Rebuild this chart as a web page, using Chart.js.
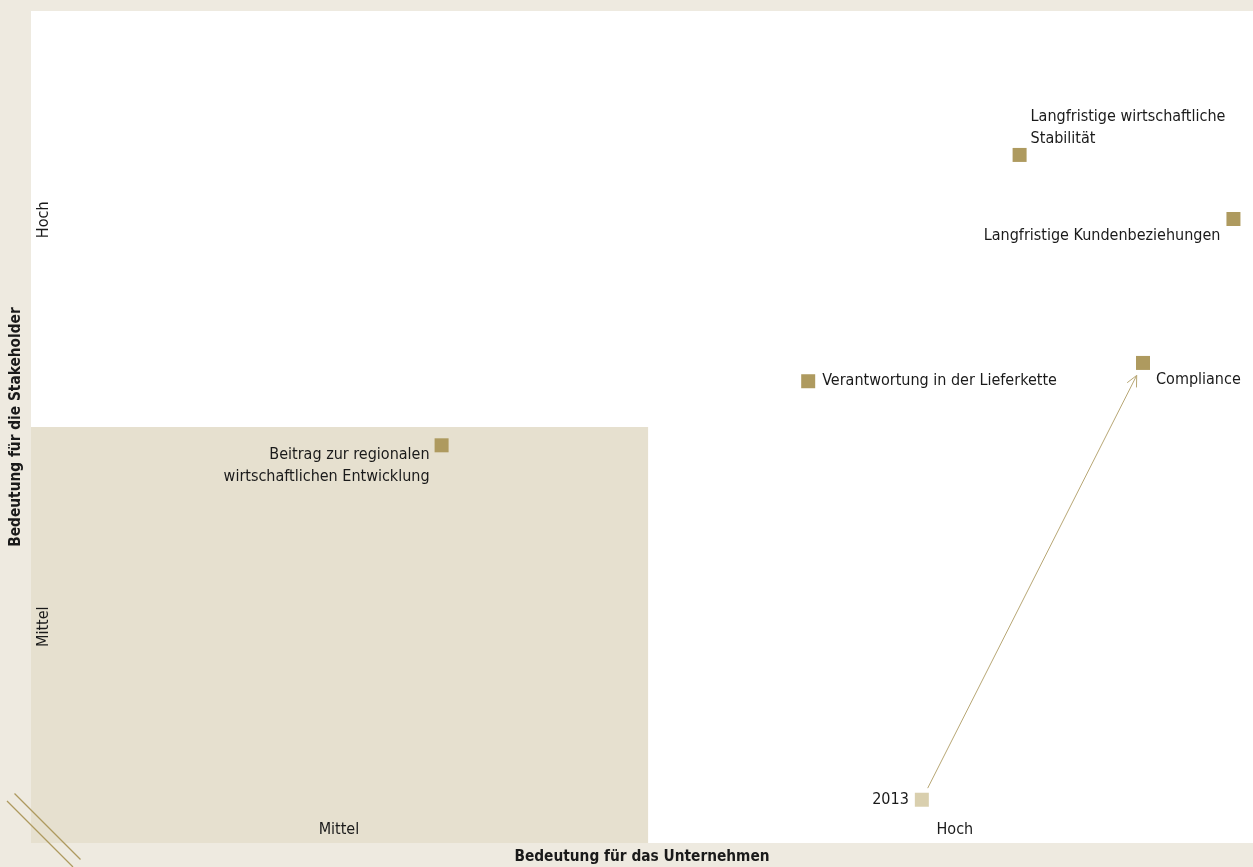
<!DOCTYPE html>
<html lang="de">
<head>
<meta charset="utf-8">
<title>Wesentlichkeitsmatrix</title>
<script src="https://cdn.jsdelivr.net/npm/chart.js@4.4.1/dist/chart.umd.min.js"></script>
<style>
  html, body { margin: 0; padding: 0; background: #eeeae0; }
  #wrap { width: 1253px; height: 867px; }
</style>
</head>
<body>
<div id="wrap"><canvas id="matrix" width="1253" height="867"></canvas></div>
<script>
// Topics and their positions (0–100 on both axes)
const topics = [
  ['Langfristige wirtschaftliche', 'Stabilität'],
  ['Langfristige Kundenbeziehungen'],
  ['Compliance'],
  ['Verantwortung in der Lieferkette'],
  ['Beitrag zur regionalen', 'wirtschaftlichen Entwicklung']
];
const companyImportance     = [80.9, 98.4, 91.0, 63.6, 33.6];
const stakeholderImportance = [82.7, 75.0, 57.7, 55.5, 47.8];

// Earlier position of "Compliance"
const previousLabel = '2013';
const previousCompany = [72.9];
const previousStakeholder = [5.2];

// Axis bands
const bandLabels = ['Mittel', 'Hoch'];
const bandCentersX = [25.2, 75.6];
const bandCentersY = [26.0, 74.9];
const midX = 50.5;
const midY = 50.0;

const xTitle = 'Bedeutung für das Unternehmen';
const yTitle = 'Bedeutung für die Stakeholder';

// Label placement around each marker: dx, dy (px), alignment
const labelPlacement = [
  { dx: 11, dy: -38, align: 'left' },
  { dx: -13, dy: 17, align: 'right' },
  { dx: 13, dy: 17, align: 'left' },
  { dx: 14, dy: 0, align: 'left' },
  { dx: -12, dy: 10, align: 'right' }
];

const FONT = '"DejaVu Sans Condensed", "Liberation Sans", sans-serif';
const GOLD = '#ae9a5f';
const GOLD_LIGHT = '#d9cfae';
const TEXT = '#1a1a1a';

const matrixPlugin = {
  id: 'matrixDecor',
  beforeDraw(chart) {
    const { ctx, chartArea: a, scales: { x, y } } = chart;
    ctx.save();
    ctx.fillStyle = '#eeeae0';
    ctx.fillRect(0, 0, chart.width, chart.height);
    ctx.fillStyle = '#ffffff';
    ctx.fillRect(a.left, a.top, a.right - a.left, a.bottom - a.top);
    // lower-left quadrant
    const qx = x.getPixelForValue(midX);
    const qy = y.getPixelForValue(midY);
    ctx.fillStyle = '#e6e0cf';
    ctx.fillRect(a.left, qy, qx - a.left, a.bottom - qy);

    // axis break marks
    ctx.strokeStyle = GOLD;
    ctx.lineWidth = 1.3;
    ctx.beginPath();
    ctx.moveTo(7, 801); ctx.lineTo(73, 867);
    ctx.moveTo(14.5, 793.5); ctx.lineTo(80.5, 859.5);
    ctx.stroke();

    // band labels
    ctx.fillStyle = TEXT;
    ctx.font = '16px ' + FONT;
    ctx.textAlign = 'center';
    ctx.textBaseline = 'middle';
    bandLabels.forEach((t, i) => {
      ctx.fillText(t, x.getPixelForValue(bandCentersX[i]), a.bottom - 13);
    });
    bandLabels.forEach((t, i) => {
      ctx.save();
      ctx.translate(a.left + 13, y.getPixelForValue(bandCentersY[i]));
      ctx.rotate(-Math.PI / 2);
      ctx.fillText(t, 0, 0);
      ctx.restore();
    });

    // axis titles
    ctx.font = 'bold 15.3px ' + FONT;
    ctx.fillText(xTitle, (a.left + a.right) / 2, a.bottom + 14);
    ctx.save();
    ctx.translate(16, (a.top + a.bottom) / 2);
    ctx.rotate(-Math.PI / 2);
    ctx.fillText(yTitle, 0, 0);
    ctx.restore();
    ctx.restore();
  },
  afterDatasetsDraw(chart) {
    const { ctx, scales: { x, y } } = chart;
    ctx.save();
    // movement arrow from the earlier position to the current one
    const x0 = x.getPixelForValue(previousCompany[0]);
    const y0 = y.getPixelForValue(previousStakeholder[0]);
    const x1 = x.getPixelForValue(companyImportance[2]);
    const y1 = y.getPixelForValue(stakeholderImportance[2]);
    const len = Math.hypot(x1 - x0, y1 - y0);
    const ux = (x1 - x0) / len, uy = (y1 - y0) / len;
    const sx = x0 + ux * 13, sy = y0 + uy * 13;
    const ex = x1 - ux * 14, ey = y1 - uy * 14;
    ctx.strokeStyle = '#b8a775';
    ctx.lineWidth = 1;
    ctx.beginPath();
    ctx.moveTo(sx, sy); ctx.lineTo(ex, ey);
    const ang = Math.atan2(uy, ux);
    const h = 12, spread = 0.45;
    ctx.moveTo(ex - h * Math.cos(ang - spread), ey - h * Math.sin(ang - spread));
    ctx.lineTo(ex, ey);
    ctx.lineTo(ex - h * Math.cos(ang + spread), ey - h * Math.sin(ang + spread));
    ctx.stroke();

    // topic labels
    ctx.fillStyle = TEXT;
    ctx.font = '16px ' + FONT;
    ctx.textBaseline = 'middle';
    topics.forEach((lines, i) => {
      const p = labelPlacement[i];
      const px = x.getPixelForValue(companyImportance[i]) + p.dx;
      const py = y.getPixelForValue(stakeholderImportance[i]) + p.dy;
      ctx.textAlign = p.align;
      lines.forEach((ln, k) => ctx.fillText(ln, px, py + k * 22));
    });
    ctx.textAlign = 'right';
    ctx.fillText(previousLabel, x0 - 13, y0);
    ctx.restore();
  }
};

new Chart(document.getElementById('matrix'), {
  type: 'scatter',
  data: {
    datasets: [
      {
        label: 'Aktuell',
        data: companyImportance.map((v, i) => ({ x: v, y: stakeholderImportance[i] })),
        backgroundColor: GOLD,
        borderWidth: 0,
        pointStyle: 'rect',
        pointRadius: 9.9,
        pointHoverRadius: 9.9
      },
      {
        label: previousLabel,
        data: previousCompany.map((v, i) => ({ x: v, y: previousStakeholder[i] })),
        backgroundColor: GOLD_LIGHT,
        borderWidth: 0,
        pointStyle: 'rect',
        pointRadius: 9.9,
        pointHoverRadius: 9.9
      }
    ]
  },
  options: {
    responsive: false,
    animation: false,
    layout: { autoPadding: false, padding: { left: 31, top: 11, right: 0, bottom: 24 } },
    plugins: { legend: { display: false }, tooltip: { enabled: false } },
    scales: {
      x: { type: 'linear', min: 0, max: 100, display: false },
      y: { type: 'linear', min: 0, max: 100, display: false }
    }
  },
  plugins: [matrixPlugin]
});
</script>
</body>
</html>
